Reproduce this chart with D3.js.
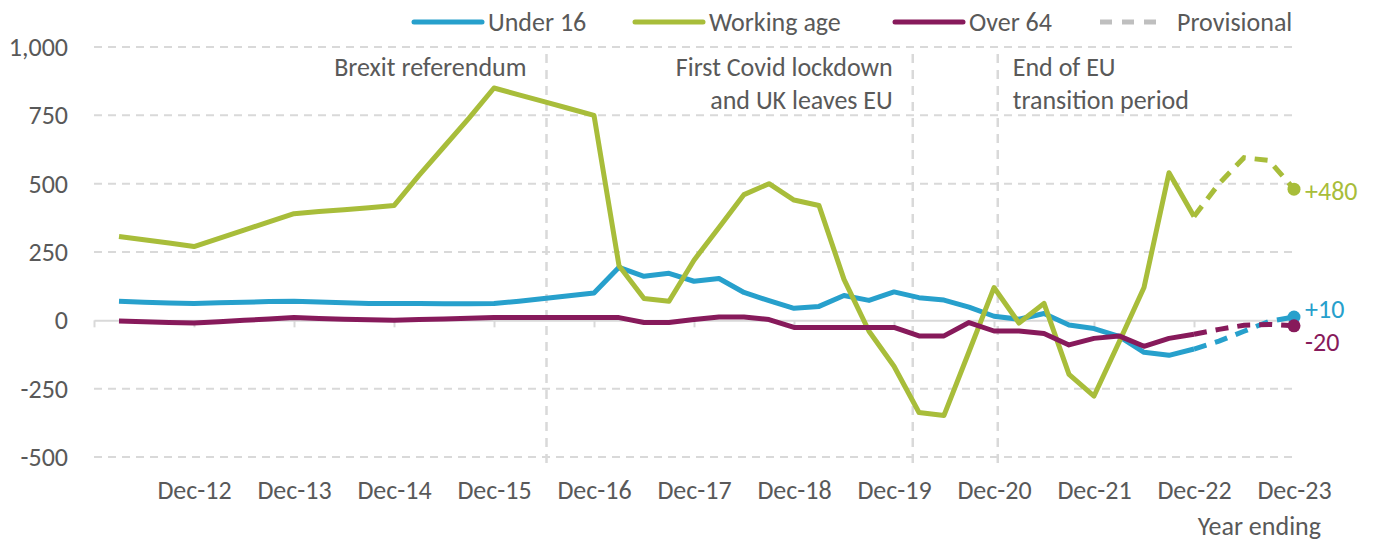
<!DOCTYPE html>
<html>
<head>
<meta charset="utf-8">
<script src="https://cdn.jsdelivr.net/npm/d3@7"></script>
<style>
	body { margin: 0; background: #fff; }
	svg { display: block; font-family: Calibri, Carlito, "Open Sans", sans-serif; }
</style>
</head>
<body>
<svg id="svg" width="1375" height="542"></svg>
<script>
"use strict";

// quarters: index 0 = year ending Dec-11, data runs Mar-12 (1) to Dec-23 (48)
const yearLabels = ["Dec-12", "Dec-13", "Dec-14", "Dec-15", "Dec-16", "Dec-17",
	"Dec-18", "Dec-19", "Dec-20", "Dec-21", "Dec-22", "Dec-23"];

const under16 = [70, 66, 63, 62, 64, 66, 69, 70, 67, 64, 62, 62,
	62, 61, 61, 62, 70, 80, 90, 100, 194, 161, 172, 143,
	153, 102, 72, 44, 51, 91, 73, 104, 83, 74, 48, 15,
	4, 25, -17, -30, -59, -117, -128, -105, -76, -40, -4, 12];

const workingAge = [307, 295, 283, 270, 300, 330, 360, 390, 398, 405, 412, 420,
	530, 635, 740, 850, 825, 800, 775, 750, 200, 80, 70, 220,
	340, 460, 500, 440, 420, 150, -40, -168, -337, -348, -115, 120,
	-10, 62, -198, -277, -80, 120, 540, 380, 500, 595, 585, 480];

const over64 = [-2, -5, -8, -10, -5, 0, 5, 10, 7, 4, 2, 0,
	3, 5, 8, 10, 10, 10, 10, 10, 10, -8, -8, 3,
	12, 12, 3, -26, -26, -26, -26, -26, -57, -57, -8, -39,
	-39, -48, -90, -66, -57, -95, -66, -51, -33, -18, -15, -20];

const provisionalFrom = 44; // Dec-22 onwards is provisional
const endLabels = ["+10", "+480", "-20"];

const yTicks = [-500, -250, 0, 250, 500, 750, 1000];

// events, position in quarters from Dec-11
const events = [
	{ at: 18.1, lines: ["Brexit referendum"], side: "left" },
	{ at: 32.75, lines: ["First Covid lockdown", "and UK leaves EU"], side: "left" },
	{ at: 36.15, lines: ["End of EU", "transition period"], side: "right" }
];

const series = [
	{ name: "Under 16", values: under16, color: "#27A0CC", label: endLabels[0] },
	{ name: "Working age", values: workingAge, color: "#A8BD3A", label: endLabels[1] },
	{ name: "Over 64", values: over64, color: "#871A5B", label: endLabels[2] }
];

const textColor = "#595959";
const gridColor = "#d9d9d9";
const fontSize = "26px";

const svg = d3.select("#svg");

const x = d3.scaleLinear().domain([0, 48]).range([94, 1294]);
const y = d3.scaleLinear().domain([-500, 1000]).range([457, 47]);

// gridlines
svg.append("g")
	.selectAll("line")
	.data(yTicks.filter((d) => d !== 0))
	.enter()
	.append("line")
	.attr("x1", 94)
	.attr("x2", 1292)
	.attr("y1", (d) => y(d))
	.attr("y2", (d) => y(d))
	.style("stroke", gridColor)
	.style("stroke-width", "2px")
	.style("stroke-dasharray", "8,6");

// y labels
const yFmt = d3.format(",");
svg.append("g")
	.selectAll("text")
	.data(yTicks)
	.enter()
	.append("text")
	.attr("x", 68)
	.attr("y", (d) => y(d))
	.attr("dy", "0.35em")
	.attr("text-anchor", "end")
	.style("font-size", fontSize)
	.style("fill", textColor)
	.text((d) => yFmt(d).replace("\u2212", "-"));

// zero axis with tick marks at each December
const xAxis = d3.axisBottom(x)
	.tickValues(d3.range(0, 49, 4))
	.tickSize(7)
	.tickSizeOuter(0)
	.tickFormat("");
const axG = svg.append("g")
	.attr("transform", `translate(0,${y(0)})`)
	.call(xAxis);
axG.selectAll("path, line").style("stroke", gridColor).style("stroke-width", "2px");

// year labels along the bottom
const labelAxis = d3.axisBottom(x)
	.tickValues(d3.range(4, 49, 4))
	.tickSize(0)
	.tickPadding(0)
	.tickFormat((d, i) => yearLabels[i]);
const labG = svg.append("g")
	.attr("transform", "translate(0,481)")
	.call(labelAxis);
labG.select(".domain").remove();
labG.selectAll("text")
	.style("font-size", fontSize)
	.style("font-family", "Calibri, Carlito, 'Open Sans', sans-serif")
	.style("fill", textColor);

svg.append("text")
	.attr("x", 1321)
	.attr("y", 535)
	.attr("text-anchor", "end")
	.style("font-size", fontSize)
	.style("fill", textColor)
	.text("Year ending");

// event lines + labels
const ev = svg.append("g").selectAll("g").data(events).enter().append("g");
ev.append("line")
	.attr("x1", (d) => x(d.at))
	.attr("x2", (d) => x(d.at))
	.attr("y1", 54)
	.attr("y2", 466)
	.style("stroke", gridColor)
	.style("stroke-width", "2.5px")
	.style("stroke-dasharray", "9,7");
ev.each(function (d) {
	const t = d3.select(this)
		.append("text")
		.attr("text-anchor", d.side === "left" ? "end" : "start")
		.style("font-size", fontSize)
		.style("fill", textColor);
	d.lines.forEach((l, i) => {
		t.append("tspan")
			.attr("x", x(d.at) + (d.side === "left" ? -20 : 15))
			.attr("y", 76 + i * 33)
			.text(l);
	});
});

// lines
const line = d3.line()
	.x((d) => x(d.i))
	.y((d) => y(d.v));

const lineG = svg.append("g");
series.forEach((s) => {
	const pts = s.values.map((v, k) => ({ i: k + 1, v: v }));
	const solid = pts.filter((d) => d.i <= provisionalFrom);
	const prov = pts.filter((d) => d.i >= provisionalFrom);
	lineG.append("path")
		.datum(solid)
		.attr("d", line)
		.style("fill", "none")
		.style("stroke", s.color)
		.style("stroke-width", "5px")
		.style("stroke-linejoin", "round");
	lineG.append("path")
		.datum(prov)
		.attr("d", line)
		.style("fill", "none")
		.style("stroke", s.color)
		.style("stroke-width", "5px")
		.style("stroke-dasharray", "13,9");
	const last = pts[pts.length - 1];
	lineG.append("circle")
		.attr("cx", x(last.i))
		.attr("cy", y(last.v))
		.attr("r", 6.5)
		.style("fill", s.color);
});

// end labels
const endPos = { "Under 16": 309, "Working age": 191, "Over 64": 342 };
svg.append("g")
	.selectAll("text")
	.data(series)
	.enter()
	.append("text")
	.attr("x", 1305)
	.attr("y", (d) => endPos[d.name])
	.attr("dy", "0.35em")
	.style("font-size", fontSize)
	.style("fill", (d) => d.color)
	.text((d) => d.label);

// legend
const legendItems = [
	{ name: "Under 16", color: "#27A0CC", x: 412, dash: null },
	{ name: "Working age", color: "#A8BD3A", x: 633, dash: null },
	{ name: "Over 64", color: "#871A5B", x: 893, dash: null },
	{ name: "Provisional", color: "#bfbfbf", x: 1098, dash: "12,10" }
];
const leg = svg.append("g").selectAll("g").data(legendItems).enter().append("g");
leg.append("line")
	.attr("x1", (d) => d.x + 2)
	.attr("x2", (d) => d.x + (d.dash ? 64 : 70))
	.attr("y1", 22)
	.attr("y2", 22)
	.style("stroke", (d) => d.color)
	.style("stroke-width", "5px")
	.style("stroke-linecap", (d) => (d.dash ? "butt" : "round"))
	.style("stroke-dasharray", (d) => d.dash);
leg.append("text")
	.attr("x", (d) => d.x + (d.dash ? 79 : 76))
	.attr("y", 22)
	.attr("dy", "0.35em")
	.style("font-size", fontSize)
	.style("fill", textColor)
	.text((d) => d.name);
</script>
</body>
</html>
